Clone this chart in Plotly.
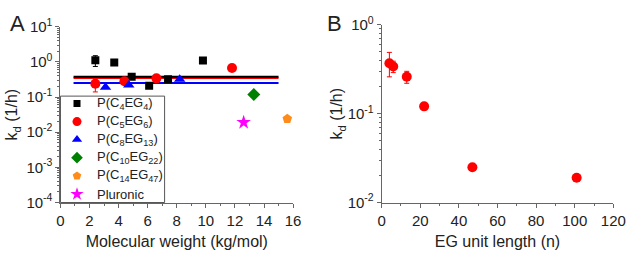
import plotly.graph_objects as go

# ---------------- Panel A data ----------------
c4_mw = [2.4, 3.7, 4.9, 6.1, 7.4, 9.8]
c4_kd = [1.12, 0.96, 0.38, 0.21, 0.32, 1.1]
c4_err_up = [0.38, 0, 0, 0, 0, 0]
c4_err_dn = [0.38, 0, 0, 0, 0, 0]

c5_mw = [2.4, 4.4, 6.6, 11.8]
c5_kd = [0.24, 0.28, 0.34, 0.67]
c5_err_up = [0.06, 0, 0, 0]
c5_err_dn = [0.10, 0, 0, 0]

c8_mw = [3.1, 4.7, 8.2]
c8_kd = [0.19, 0.22, 0.32]

c10_mw = [13.3]
c10_kd = [0.118]

c14_mw = [15.6]
c14_kd = [0.024]

plu_mw = [12.6]
plu_kd = [0.019]

fit_x = [0.9, 15.0]
fit_black = [0.38, 0.38]
fit_red = [0.35, 0.35]
fit_blue = [0.25, 0.25]

# ---------------- Panel B data ----------------
eg_n = [4, 6, 13, 22, 47, 101]
eg_kd = [0.37, 0.34, 0.26, 0.121, 0.025, 0.019]
eg_err_up = [0.12, 0.05, 0.04, 0, 0, 0]
eg_err_dn = [0.11, 0.05, 0.04, 0, 0, 0]

xA_ticks = [0, 2, 4, 6, 8, 10, 12, 14, 16]
xB_ticks = [0, 20, 40, 60, 80, 100, 120]
yA_exps = [-4, -3, -2, -1, 0, 1]
yB_exps = [-2, -1, 0]

series_names = ["P(C<sub>4</sub>EG<sub>4</sub>)", "P(C<sub>5</sub>EG<sub>6</sub>)",
                "P(C<sub>8</sub>EG<sub>13</sub>)", "P(C<sub>10</sub>EG<sub>22</sub>)",
                "P(C<sub>14</sub>EG<sub>47</sub>)", "Pluronic"]
series_colors = ["#000000", "#ff0000", "#0000ff", "#008000", "#ff8c1a", "#ff00ff"]
series_symbols = ["square", "circle", "triangle-up", "diamond", "pentagon", "star"]
series_sizes = [8, 10, 10, 10, 10, 11]

FONT = "Liberation Sans, Arial, sans-serif"
AXC = "#666666"
TXT = "#222222"

W, H = 638, 254

fig = go.Figure()

def add_pts(x, y, name, color, symbol, size, xa="x", ya="y", err=None):
    kw = {}
    if err is not None:
        kw["error_y"] = dict(type="data", symmetric=False, array=err[0], arrayminus=err[1],
                             color=color, thickness=1, width=2.5)
    fig.add_trace(go.Scatter(x=x, y=y, mode="markers", name=name,
                             marker=dict(color=color, symbol=symbol, size=size, line=dict(width=0)),
                             xaxis=xa, yaxis=ya, showlegend=False, **kw))

# fit lines
for yy, col in [(fit_blue, "#0000ff"), (fit_red, "#ff0000"), (fit_black, "#000000")]:
    fig.add_trace(go.Scatter(x=fit_x, y=yy, mode="lines", line=dict(color=col, width=2),
                             showlegend=False, xaxis="x", yaxis="y", hoverinfo="skip"))

a_x = [c4_mw, c5_mw, c8_mw, c10_mw, c14_mw, plu_mw]
a_y = [c4_kd, c5_kd, c8_kd, c10_kd, c14_kd, plu_kd]
a_err = [(c4_err_up, c4_err_dn), (c5_err_up, c5_err_dn), None, None, None, None]
for i in range(6):
    add_pts(a_x[i], a_y[i], series_names[i], series_colors[i], series_symbols[i],
            series_sizes[i], err=a_err[i])

add_pts(eg_n, eg_kd, "B", "#ff0000", "circle", 10, xa="x2", ya="y2",
        err=(eg_err_up, eg_err_dn))

# ---- custom legend (pixel-coordinate overlay axis) ----
leg_left, leg_right, leg_top, leg_bottom = 58, 165, 92, 207
leg_rows = [100, 119.5, 139, 158.5, 178.3, 198]
leg_sym_x = 75
leg_txt_x = 93
fig.add_shape(type="rect", xref="paper", yref="paper",
              x0=leg_left / W, x1=leg_right / W,
              y0=1 - leg_bottom / H, y1=1 - leg_top / H,
              line=dict(color="#555555", width=1), fillcolor="rgba(0,0,0,0)", layer="below")
for i in range(6):
    fig.add_trace(go.Scatter(x=[leg_sym_x], y=[leg_rows[i]], mode="markers",
                             marker=dict(color=series_colors[i], symbol=series_symbols[i],
                                         size=series_sizes[i] - 1, line=dict(width=0)),
                             xaxis="x3", yaxis="y3", showlegend=False, hoverinfo="skip"))
    fig.add_annotation(text=series_names[i], x=leg_txt_x, y=leg_rows[i], xref="x3", yref="y3",
                       xanchor="left", yanchor="middle", showarrow=False,
                       font=dict(family=FONT, size=13, color=TXT))

def minor_vals(exps):
    vals = []
    for e in exps[:-1]:
        for m in range(2, 10):
            vals.append(m * 10 ** e)
    return vals

common_axis = dict(showline=True, linecolor=AXC, linewidth=1, ticks="outside", ticklen=4,
                   tickcolor=AXC, showgrid=False, zeroline=False, mirror=False,
                   tickfont=dict(family=FONT, size=15, color=TXT),
                   title_font=dict(family=FONT, size=16, color=TXT))

fig.update_layout(
    width=W, height=H, margin=dict(l=0, r=0, t=0, b=0),
    paper_bgcolor="white", plot_bgcolor="rgba(0,0,0,0)",
    font=dict(family=FONT, color=TXT),
    showlegend=False,
    xaxis=dict(domain=[58 / W, 297 / W], range=[0, 16], tickvals=xA_ticks,
               minor=dict(dtick=1, ticks="outside", ticklen=2, tickcolor=AXC),
               anchor="y", title=dict(text="Molecular weight (kg/mol)", standoff=8), **common_axis),
    yaxis=dict(domain=[(H - 207) / H, (H - 17) / H], type="log", range=[-4, 1],
               tickvals=[10 ** e for e in yA_exps],
               ticktext=["10<sup>%d</sup>" % e for e in yA_exps],
               minor=dict(tickvals=minor_vals(yA_exps), ticks="outside", ticklen=2, tickcolor=AXC),
               anchor="x", title=dict(text="k<sub>d</sub> (1/h)", standoff=4), **common_axis),
    xaxis2=dict(domain=[388 / W, 626 / W], range=[0, 120], tickvals=xB_ticks,
                minor=dict(dtick=10, ticks="outside", ticklen=2, tickcolor=AXC),
                anchor="y2", title=dict(text="EG unit length (n)", standoff=8), **common_axis),
    yaxis2=dict(domain=[(H - 207) / H, (H - 15) / H], type="log", range=[-2, 0],
                tickvals=[10 ** e for e in yB_exps],
                ticktext=["10<sup>%d</sup>" % e for e in yB_exps],
                minor=dict(tickvals=minor_vals(yB_exps), ticks="outside", ticklen=2, tickcolor=AXC),
                anchor="x2", title=dict(text="k<sub>d</sub> (1/h)", standoff=0), **common_axis),
    xaxis3=dict(domain=[0, 1], range=[0, W], visible=False, anchor="y3", fixedrange=True),
    yaxis3=dict(domain=[0, 1], range=[H, 0], visible=False, anchor="x3", fixedrange=True),
    annotations=list(fig.layout.annotations) + [
        dict(text="A", x=4 / W, y=1 - 13 / H, xref="paper", yref="paper",
             xanchor="left", yanchor="middle", showarrow=False,
             font=dict(family=FONT, size=22, color=TXT)),
        dict(text="B", x=330 / W, y=1 - 13 / H, xref="paper", yref="paper",
             xanchor="left", yanchor="middle", showarrow=False,
             font=dict(family=FONT, size=22, color=TXT)),
    ],
)

fig.write_html("out.html")
